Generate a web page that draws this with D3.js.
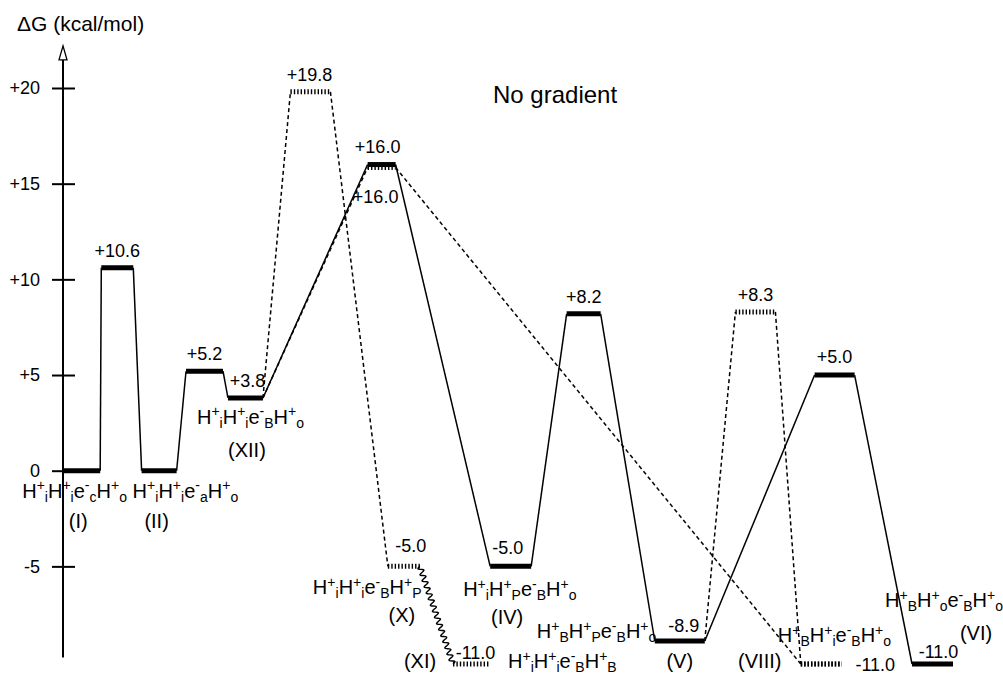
<!DOCTYPE html>
<html>
<head>
<meta charset="utf-8">
<script src="https://cdn.jsdelivr.net/npm/d3@7"></script>
<style>
  body { margin: 0; background: #fff; }
  svg { display: block; font-family: "Liberation Sans", Arial, Helvetica, sans-serif; }
</style>
</head>
<body>
<div id="chart"></div>
<script>
// energy levels (kcal/mol) and their place along the reaction coordinate (0-100)
const levelIds    = ["I", "T1", "II", "T2", "XII", "T3", "T4", "X", "XI", "IV", "T5", "V", "T6", "VIII", "T7", "VI"];
const levelCoord  = [2.1, 6.1, 10.8, 15.9, 20.5, 27.8, 35.8, 38.3, 45.9, 50.3, 58.5, 69.3, 77.8, 85.2, 86.7, 97.7];
const levelEnergy = [0, 10.6, 0, 5.2, 3.8, 19.8, 16.0, -5.0, -11.0, -5.0, 8.2, -8.9, 8.3, -11.0, 5.0, -11.0];

// pathways through the levels
const solidPath   = ["I", "T1", "II", "T2", "XII", "T4", "IV", "T5", "V", "T7", "VI"];
const dashedPaths = [["XII", "T3", "X"], ["XII", "T4", "VIII"], ["V", "T6", "VIII"]];
const wavyLinks   = [["X", "XI"]];
const hatchedOnly = ["XI"];

// intermediate states
const stateLevel   = ["I", "II", "XII", "X", "IV", "XI", "V", "VIII", "VI"];
const stateFormula = ["H^+_iH^+_ie^-_cH^+_o", "H^+_iH^+_ie^-_aH^+_o", "H^+_iH^+_ie^-_BH^+_o",
                      "H^+_iH^+_ie^-_BH^+_P", "H^+_iH^+_Pe^-_BH^+_o", "H^+_iH^+_ie^-_BH^+_B",
                      "H^+_BH^+_Pe^-_BH^+_o", "H^+_BH^+_ie^-_BH^+_o", "H^+_BH^+_oe^-_BH^+_o"];
const stateNumeral = ["(I)", "(II)", "(XII)", "(X)", "(IV)", "(XI)", "(V)", "(VIII)", "(VI)"];

const yTicks = [-5, 0, 5, 10, 15, 20];

// layout: bar widths and label offsets (px, from bar centre)
const barW = {I: 37, T1: 32, II: 35, T2: 37, XII: 35, T3: 40, T4: 28, X: 32, XI: 37,
              IV: 41, T5: 34, V: 50, T6: 40, VIII: 41, T7: 40, VI: 41};
const valueOff = {T1: [[0, -11]], T2: [[0, -11]], XII: [[2, -11]], T3: [[-1, -11]],
                  T4: [[-4, -12], [-6, 38]], X: [[7, -14]], XI: [[4, -5]], IV: [[-3, -12]],
                  T5: [[0, -11]], V: [[4, -9]], T6: [[0, -11]], VIII: [[54, 7]],
                  T7: [[0, -12]], VI: [[6, -6]]};
const formulaOff = {I: [-59.5, 27], II: [-26.5, 27], XII: [-48.5, 26], X: [-91, 28], IV: [-47.5, 30],
                    XI: [36.5, 4], V: [-143, -3], VIII: [-43.5, -22], VI: [-47.5, -57]};
const numeralOff = {I: [-3.5, 57], II: [-2.5, 57], XII: [1.5, 59], X: [-2, 56], IV: [-3.5, 58],
                    XI: [-51.5, 4], V: [0, 27], VIII: [-61.5, 4], VI: [43.5, -24]};

const width = 1003, height = 676;

const svg = d3.select("#chart").append("svg")
  .attr("width", width)
  .attr("height", height);

// x: reaction coordinate; y: energy (original squeezes the scale below -8.9)
const x = d3.scaleLinear().domain([0, 100]).range([63, 953]);
const y = d3.scaleLinear().domain([-11, -8.9, 20]).range([664, 641, 88]);

const levels = {};
levelIds.forEach((id, i) => { levels[id] = {id: id, coord: levelCoord[i], energy: levelEnergy[i]}; });
const cx = id => x(levels[id].coord);
const cy = id => y(levels[id].energy);

// axis
const axisX = x(0);
svg.append("line")
  .attr("x1", axisX).attr("x2", axisX)
  .attr("y1", y(-10.4)).attr("y2", y(22.2) + 2)
  .attr("stroke", "#000").attr("stroke-width", 2);
svg.append("path")
  .attr("d", `M${axisX - 4},${y(22.2) + 14}L${axisX},${y(22.2)}L${axisX + 4},${y(22.2) + 14}Z`)
  .attr("fill", "#fff").attr("stroke", "#000").attr("stroke-width", 1.3);

const gLeft = svg.append("g")
  .attr("transform", `translate(${axisX},0)`)
  .call(d3.axisLeft(y).tickValues(yTicks).tickSize(11).tickPadding(12)
    .tickFormat(d => d > 0 ? "+" + d : String(d)));
gLeft.select(".domain").remove();
gLeft.selectAll("line").attr("stroke-width", 2);
gLeft.selectAll("text").style("font-size", "18px").style("font-family", "Liberation Sans, Arial, sans-serif");

const gRight = svg.append("g")
  .attr("transform", `translate(${axisX},0)`)
  .call(d3.axisRight(y).tickValues(yTicks).tickSize(12).tickFormat(""));
gRight.select(".domain").remove();
gRight.selectAll("line").attr("stroke-width", 2);

svg.append("text")
  .attr("x", 17).attr("y", 31)
  .style("font-size", "21px")
  .text("\u0394G (kcal/mol)");

svg.append("text")
  .attr("x", 493).attr("y", 103)
  .style("font-size", "24px")
  .text("No gradient");

// connectors
function links(path, shifted) {
  const out = [];
  for (let i = 0; i < path.length - 1; i++) {
    const a = path[i], b = path[i + 1];
    out.push({
      x1: cx(a) + barW[a] / 2, y1: cy(a) + (shifted && shifted(a, i) ? 3 : 0),
      x2: cx(b) - barW[b] / 2, y2: cy(b) + (shifted && shifted(b, i + 1) ? 3 : 0)
    });
  }
  return out;
}
// a dashed path that runs through a solid-path level draws its bar just below
const shiftFor = (id, i) => i > 0 && solidPath.includes(id);

svg.append("g")
  .selectAll("line")
  .data(links(solidPath))
  .join("line")
    .attr("x1", d => d.x1).attr("y1", d => d.y1)
    .attr("x2", d => d.x2).attr("y2", d => d.y2)
    .attr("stroke", "#000").attr("stroke-width", 1.5);

svg.append("g")
  .selectAll("line")
  .data(dashedPaths.flatMap(p => links(p, shiftFor)))
  .join("line")
    .attr("x1", d => d.x1).attr("y1", d => d.y1)
    .attr("x2", d => d.x2).attr("y2", d => d.y2)
    .attr("stroke", "#000").attr("stroke-width", 1.5)
    .attr("stroke-dasharray", "4,3");

// wavy link
function wavy(x0, y0, x1, y1, amp, wl) {
  const len = Math.hypot(x1 - x0, y1 - y0), n = Math.round(len / wl);
  const ux = (x1 - x0) / len, uy = (y1 - y0) / len;
  const pts = d3.range(0, n * 12 + 1).map(i => {
    const t = i / (n * 12), s = amp * Math.sin(2 * Math.PI * n * t);
    return [x0 + ux * len * t - uy * s, y0 + uy * len * t + ux * s];
  });
  return d3.line()(pts);
}
svg.append("g")
  .selectAll("path")
  .data(wavyLinks)
  .join("path")
    .attr("d", d => wavy(cx(d[0]) + barW[d[0]] / 2, cy(d[0]), cx(d[1]) - barW[d[1]] / 2, cy(d[1]), 2.6, 6.6))
    .attr("fill", "none").attr("stroke", "#000").attr("stroke-width", 1.4);

// hatched bars (dashed pathways)
const hatched = [];
dashedPaths.forEach(p => p.forEach((id, i) => {
  if (i > 0) hatched.push({id: id, dy: shiftFor(id, i) ? 3 : 0});
}));
hatchedOnly.forEach(id => hatched.push({id: id, dy: 0}));

svg.append("g")
  .selectAll("line")
  .data(hatched)
  .join("line")
    .attr("x1", d => cx(d.id) - barW[d.id] / 2).attr("x2", d => cx(d.id) + barW[d.id] / 2)
    .attr("y1", d => cy(d.id) + d.dy).attr("y2", d => cy(d.id) + d.dy)
    .attr("stroke", "#000").attr("stroke-width", 5)
    .attr("stroke-dasharray", "1.4,2");

// solid bars
svg.append("g")
  .selectAll("line")
  .data(solidPath)
  .join("line")
    .attr("x1", d => cx(d) - barW[d] / 2).attr("x2", d => cx(d) + barW[d] / 2)
    .attr("y1", d => cy(d)).attr("y2", d => cy(d))
    .attr("stroke", "#000").attr("stroke-width", 5);

// energy labels
const fmt = v => (v > 0 ? "+" : "") + v.toFixed(1);
const valueLabels = [];
levelIds.forEach(id => (valueOff[id] || []).forEach(o => valueLabels.push({id: id, o: o})));
svg.append("g")
  .selectAll("text")
  .data(valueLabels)
  .join("text")
    .attr("x", d => cx(d.id) + d.o[0])
    .attr("y", d => cy(d.id) + d.o[1])
    .attr("text-anchor", "middle")
    .style("font-size", "18px")
    .text(d => fmt(levels[d.id].energy));

// state formulas with super/subscripts
function formula(sel, str) {
  let shift = 0;
  for (let i = 0; i < str.length; i++) {
    let ch = str[i], target = 0, size = 20;
    if (ch === "^" || ch === "_") {
      target = ch === "^" ? -7.5 : 4;
      size = 14;
      ch = str[++i];
    }
    sel.append("tspan")
      .attr("dy", target - shift)
      .style("font-size", size + "px")
      .text(ch);
    shift = target;
  }
}
stateLevel.forEach((id, i) => {
  const t = svg.append("text")
    .attr("x", cx(id) + formulaOff[id][0])
    .attr("y", cy(id) + formulaOff[id][1]);
  formula(t, stateFormula[i]);
  svg.append("text")
    .attr("x", cx(id) + numeralOff[id][0])
    .attr("y", cy(id) + numeralOff[id][1])
    .attr("text-anchor", "middle")
    .style("font-size", "20px")
    .text(stateNumeral[i]);
});
</script>
</body>
</html>
